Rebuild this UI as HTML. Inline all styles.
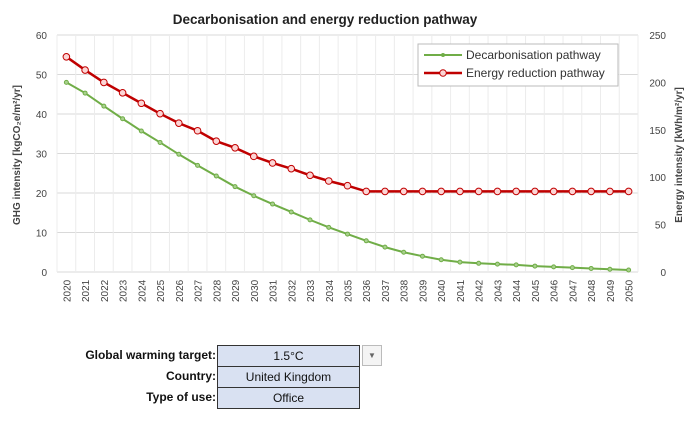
<!DOCTYPE html>
<html><head><meta charset="utf-8"><style>
body{margin:0;background:#fff;font-family:"Liberation Sans",sans-serif;}
svg text{font-family:"Liberation Sans",sans-serif;}
</style></head><body>
<svg width="697" height="420">
<text x="325" y="24" text-anchor="middle" font-size="13.5" font-weight="bold" fill="#222">Decarbonisation and energy reduction pathway</text>
<g id="grid"></g><g id="axes"></g><g id="series"></g>
<text transform="translate(20,155) rotate(-90)" text-anchor="middle" font-size="10" font-weight="bold" fill="#444">GHG intensity [kgCO₂e/m²/yr]</text>
<text transform="translate(682,155) rotate(-90)" text-anchor="middle" font-size="10" font-weight="bold" fill="#444">Energy intensity [kWh/m²/yr]</text>
<g>
<rect x="418" y="44" width="200" height="42" fill="#fff" stroke="#bbb"/>
<line x1="424" y1="55" x2="462" y2="55" stroke="#70ad47" stroke-width="2"/><circle cx="443" cy="55" r="2" fill="#70ad47"/>
<text x="466" y="59" font-size="12" fill="#333">Decarbonisation pathway</text>
<line x1="424" y1="73" x2="462" y2="73" stroke="#c00000" stroke-width="2.5"/><circle cx="443" cy="73" r="3.3" fill="#fcd5d5" stroke="#c00000"/>
<text x="466" y="77" font-size="12" fill="#333">Energy reduction pathway</text>
</g>
</svg>
<div style="position:absolute;left:0;top:345px;width:216px;font-size:12px;font-weight:bold;text-align:right;line-height:21px;color:#111">
<div>Global warming target:</div>
<div>Country:</div>
<div>Type of use:</div>
</div>
<div style="position:absolute;left:217px;top:345px;width:143px;font-size:12px;text-align:center;color:#111">
<div style="height:20px;line-height:20px;background:#d9e1f2;border:1px solid #333">1.5°C</div>
<div style="height:20px;line-height:20px;background:#d9e1f2;border:1px solid #333;border-top:none">United Kingdom</div>
<div style="height:20px;line-height:20px;background:#d9e1f2;border:1px solid #333;border-top:none">Office</div>
</div>
<div style="position:absolute;left:362px;top:345px;width:18px;height:19px;border:1px solid #bbb;background:#f4f4f4;font-size:8px;text-align:center;line-height:19px;color:#666">▼</div>
<script>
const years=[];for(let y=2020;y<=2050;y++)years.push(y);
const ghg=[48,45.3,42,38.8,35.7,32.8,29.8,27,24.3,21.6,19.3,17.2,15.2,13.2,11.3,9.6,7.9,6.3,5,4,3.1,2.5,2.2,2.0,1.8,1.5,1.3,1.1,0.9,0.7,0.5];
const energy=[227,213,200,189,178,167,157,149,138,131,122,115,109,102,96,91,85,85,85,85,85,85,85,85,85,85,85,85,85,85,85];
const leftTicks=[0,10,20,30,40,50,60];
const rightTicks=[0,50,100,150,200,250];
const NS="http://www.w3.org/2000/svg";
const L=57,R=638,T=35,B=272;
const step=(R-L)/years.length;
const xs=i=>L+step*(i+0.5);
const yl=v=>B-(v/60)*(B-T);
const yr=v=>B-(v/250)*(B-T);
function mk(t,a,p){const e=document.createElementNS(NS,t);for(const k in a)e.setAttribute(k,a[k]);p.appendChild(e);return e;}
const grid=document.getElementById('grid'),axes=document.getElementById('axes'),ser=document.getElementById('series');
leftTicks.forEach(v=>{const l=mk('line',{x1:L,x2:R,y1:yl(v),y2:yl(v),stroke:'#d9d9d9'},grid);


const t=mk('text',{x:L-10,y:yl(v)+4,'text-anchor':'end','font-size':10,fill:'#444'},axes);t.textContent=v;

});
rightTicks.forEach(v=>{const t=mk('text',{x:R+28,y:yr(v)+4,'text-anchor':'end','font-size':10,fill:'#444'},axes);t.textContent=v;

});
for(let i=0;i<=years.length;i++){const l=mk('line',{x1:L+step*i,x2:L+step*i,y1:T,y2:B,stroke:'#ececec'},grid);

}
years.forEach((y,i)=>{const t=mk('text',{transform:`translate(${xs(i)+4},${B+30}) rotate(-90)`,'font-size':10,fill:'#444'},axes);t.textContent=y;

});
const g=mk('polyline',{points:ghg.map((v,i)=>xs(i)+','+yl(v)).join(' '),fill:'none',stroke:'#70ad47','stroke-width':2},ser);


ghg.forEach((v,i)=>{const c=mk('circle',{cx:xs(i),cy:yl(v),r:2,fill:'#a9d18e',stroke:'#70ad47'},ser);

});
const e=mk('polyline',{points:energy.map((v,i)=>xs(i)+','+yr(v)).join(' '),fill:'none',stroke:'#c00000','stroke-width':2.5},ser);


energy.forEach((v,i)=>{const c=mk('circle',{cx:xs(i),cy:yr(v),r:3.3,fill:'#fcd5d5',stroke:'#c00000'},ser);

});
</script>
</body></html>
